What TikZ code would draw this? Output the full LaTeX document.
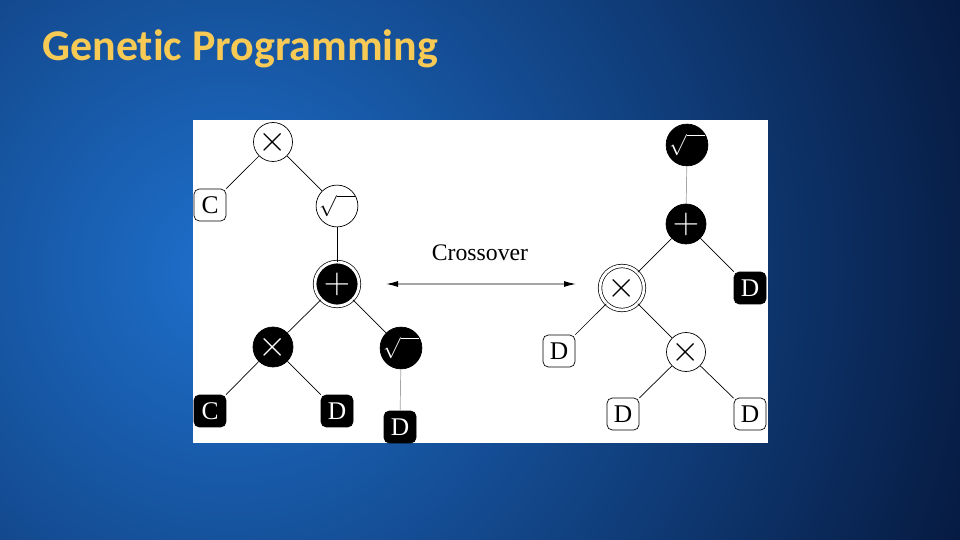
\documentclass[tikz,border=0pt]{standalone}
\usepackage{fontspec}
\setmainfont{Liberation Serif}
\newfontfamily\titlefont{Carlito}[Ligatures=NoCommon]
\usetikzlibrary{arrows.meta}

\definecolor{bgin}{RGB}{30,112,205}
\definecolor{bgout}{RGB}{5,22,58}
\definecolor{gold}{RGB}{246,202,84}
\definecolor{linkgray}{RGB}{165,165,165}

\newcommand{\opmul}{{\fontsize{22}{22}\selectfont$\times$}}
\newcommand{\opplus}{{\fontsize{22}{22}\selectfont$+$}}
\newcommand{\oproot}{{\fontsize{12}{12}\selectfont$\sqrt{\hphantom{m}}$}}

\tikzset{
  opw/.style={circle, draw=black, fill=white, line width=0.4pt, minimum size=0.78cm, inner sep=0pt},
  opb/.style={circle, draw=black, fill=black, text=white, line width=0.4pt, minimum size=0.8cm, inner sep=0pt},
  leafw/.style={rectangle, rounded corners=3pt, draw=black, fill=white, minimum size=0.64cm, inner sep=0pt, font=\fontsize{14.5}{16}\selectfont},
  leafb/.style={leafw, fill=black, text=white},
  picked/.style={double=white, double distance=1.6pt, minimum size=0.88cm},
  link/.style={draw=black, line width=0.4pt},
}

\begin{document}
\begin{tikzpicture}[x=0.02cm, y=-0.02cm]
  \useasboundingbox (0,0) rectangle (960,540);
  \begin{scope}
    \clip (0,0) rectangle (960,540);
    \shade[inner color=bgin, outer color=bgout] (230,270) circle (820);
  \end{scope}
  \node[anchor=base west, text=gold, font=\titlefont\bfseries\fontsize{25}{30}\selectfont, inner sep=0pt] (title) at (42,61) {Genetic Programming};
  \fill[white] (193,120) rectangle (768,443);

  % parent
  \node[opw] (mulA)  at (273,142) {\opmul};
  \node[leafw] (cA)  at (210,205) {C};
  \node[opw] (rootA) at (337,206) {\oproot};
  \node[opb, picked] (plusA) at (337,284) {\opplus};
  \node[opb] (mulB)  at (273,347) {\opmul};
  \node[opb] (rootB) at (401,348) {\oproot};
  \node[leafb] (cB)  at (210,411) {C};
  \node[leafb] (dA)  at (337,411) {D};
  \node[leafb] (dB)  at (400,427) {D};
  \draw[link] (mulA) -- (cA);
  \draw[link] (mulA) -- (rootA);
  \draw[link] (rootA) -- (plusA);
  \draw[link] (plusA) -- (mulB);
  \draw[link] (plusA) -- (rootB);
  \draw[link] (mulB) -- (cB);
  \draw[link] (mulB) -- (dA);
  \draw[link, linkgray] (rootB) -- (dB);

  % offspring
  \node[opb] (rootC) at (687,145) {\oproot};
  \node[opb] (plusB) at (686,224) {\opplus};
  \node[opw, picked] (mulC) at (622,288) {\opmul};
  \node[leafb] (dC)  at (750,288) {D};
  \node[leafw] (dD)  at (559,351) {D};
  \node[opw] (mulD)  at (686,352) {\opmul};
  \node[leafw] (dE)  at (623,414) {D};
  \node[leafw] (dF)  at (750,414) {D};
  \draw[link, linkgray] (rootC) -- (plusB);
  \draw[link] (plusB) -- (mulC);
  \draw[link] (plusB) -- (dC);
  \draw[link] (mulC) -- (dD);
  \draw[link] (mulC) -- (mulD);
  \draw[link] (mulD) -- (dE);
  \draw[link] (mulD) -- (dF);

  \node[font=\fontsize{13.5}{15}\selectfont] (xo) at (480,253) {Crossover};
  \coordinate (xl) at (386,284);
  \coordinate (xr) at (576,284);
  \draw[linkgray, line width=0.6pt, {Latex[black, length=0.24cm, width=0.12cm]}-{Latex[black, length=0.24cm, width=0.12cm]}] (xl) -- (xr);
\end{tikzpicture}
\end{document}
